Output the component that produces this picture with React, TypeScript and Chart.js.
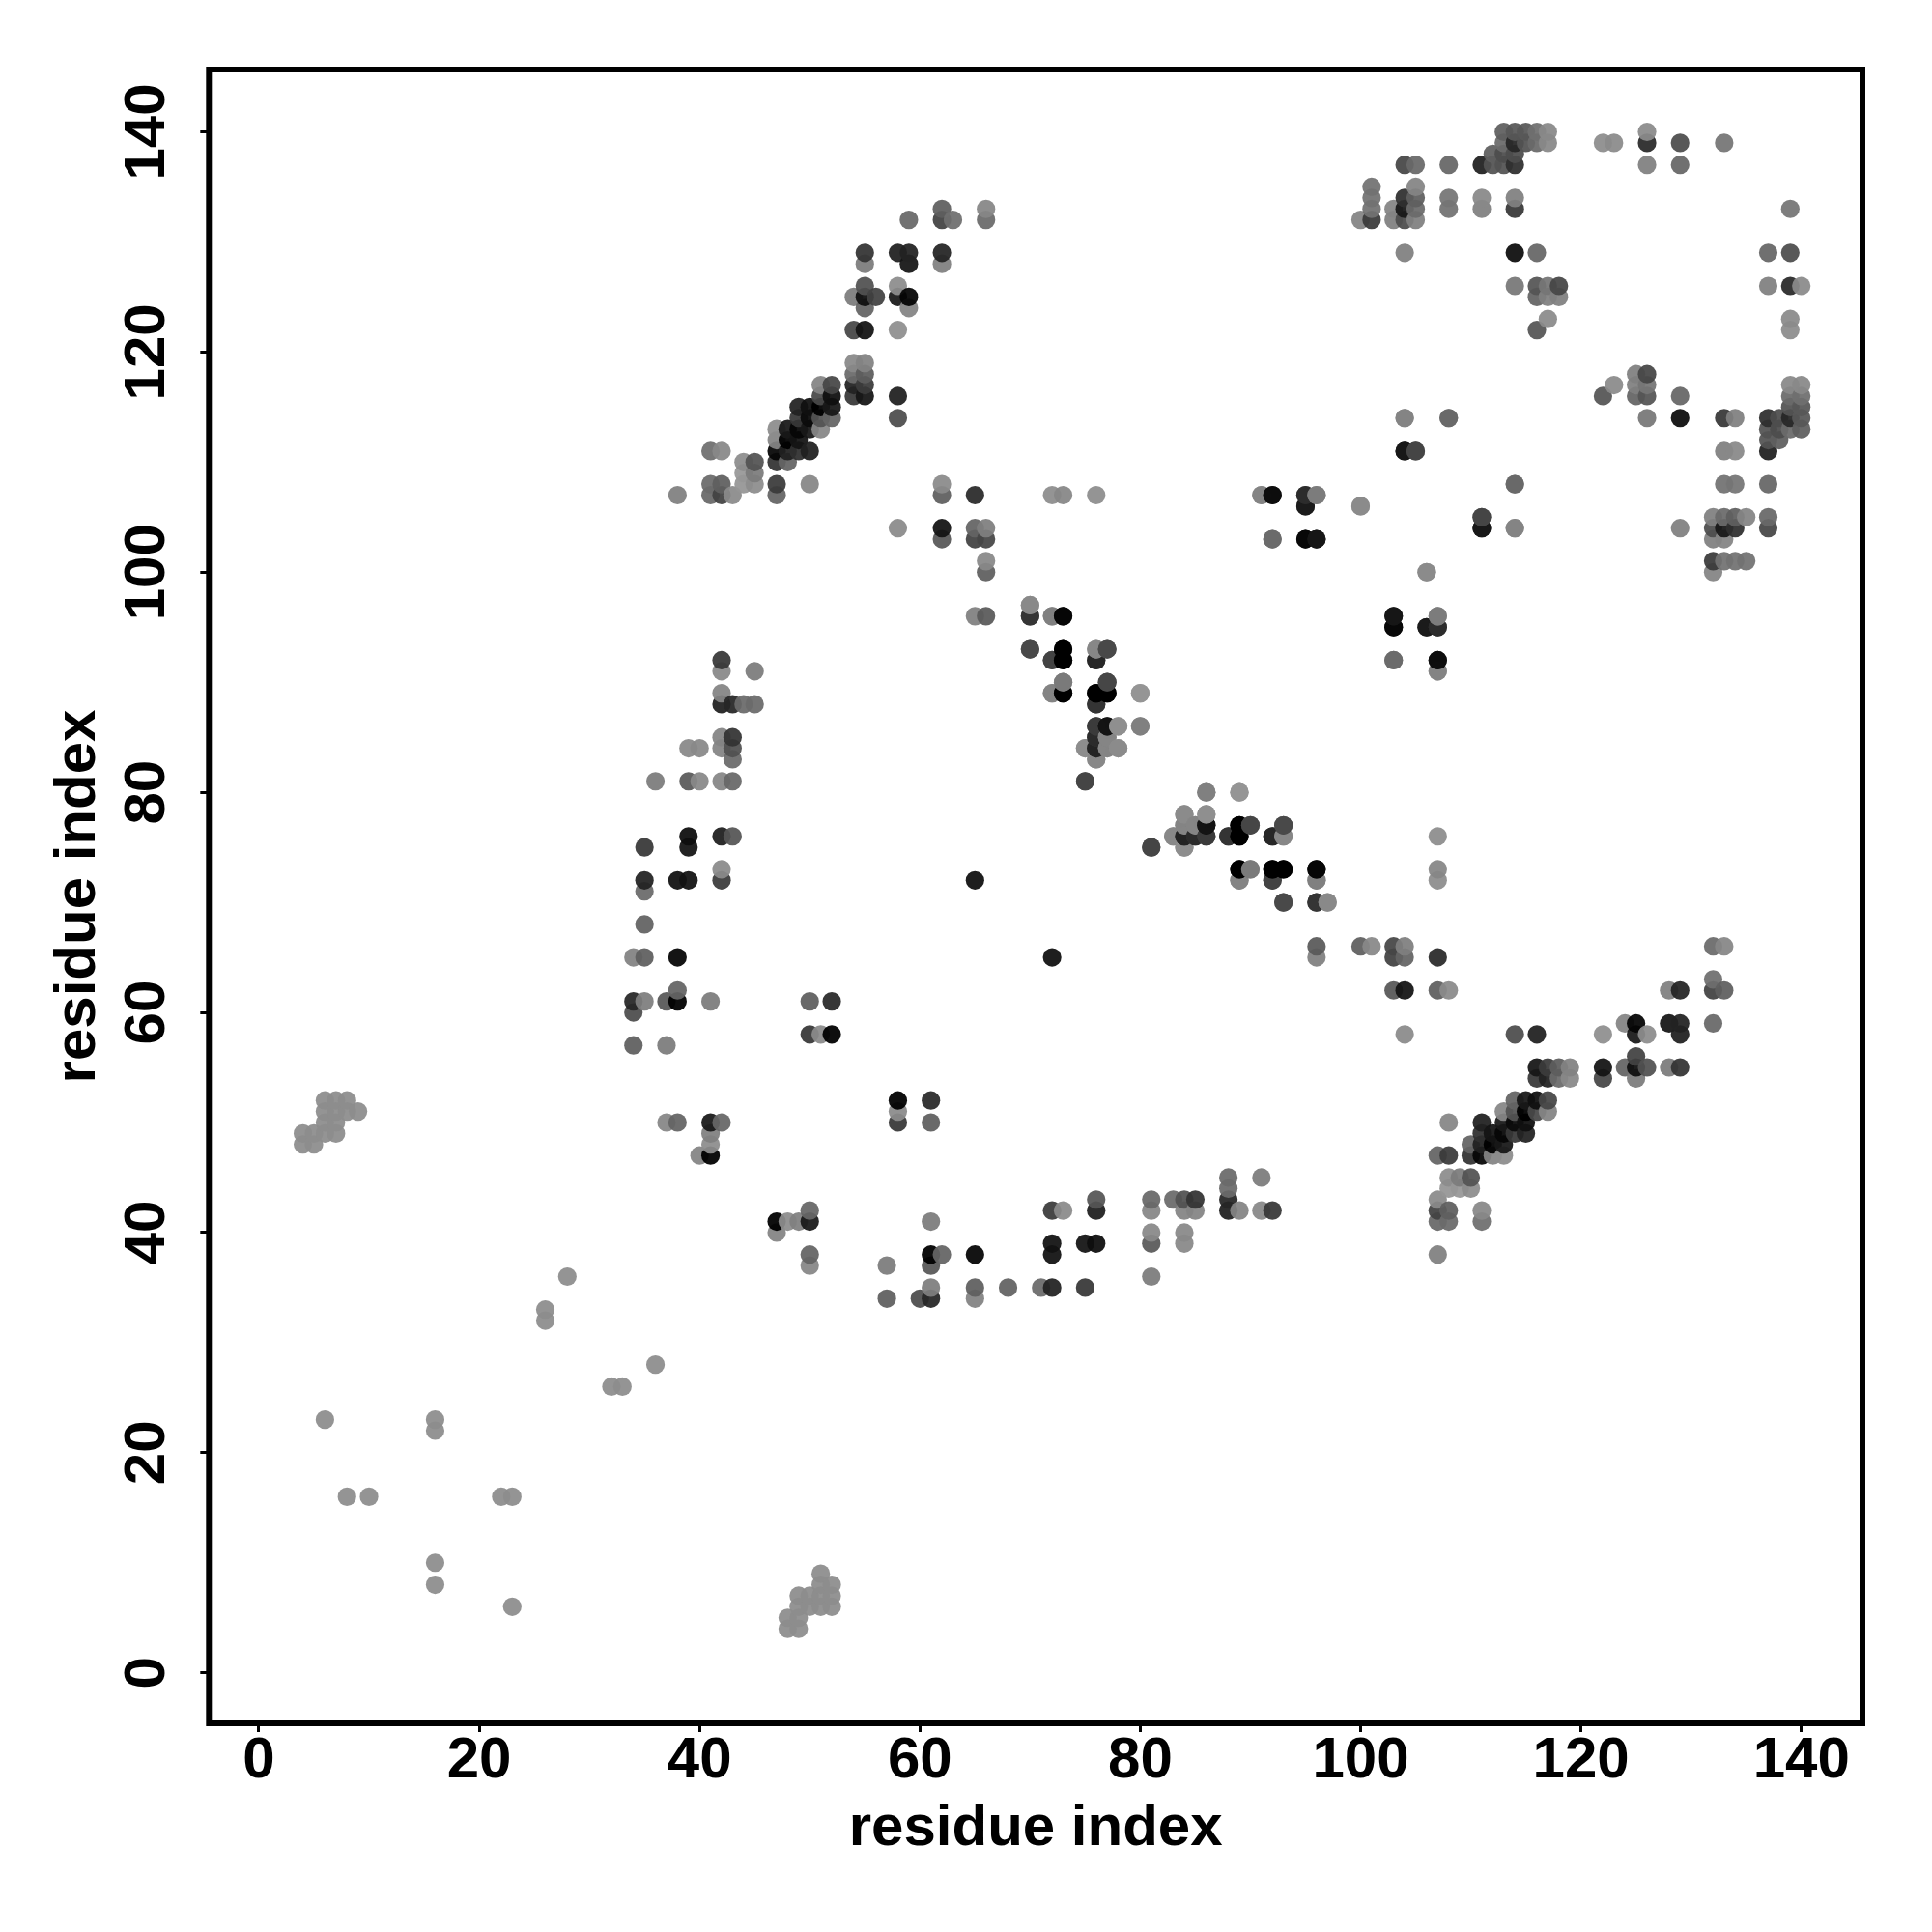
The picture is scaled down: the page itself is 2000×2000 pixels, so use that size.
import React, { useEffect, useRef } from "react";
import { Chart } from "chart.js/auto";

// Each contact is [residue i, residue j, grey level], i < j; the map is symmetric.
const terminalContacts: number[][] = [
  [4,48,0x90],[4,49,0x90],[5,48,0x90],[5,49,0x90],[6,49,0x90],[6,50,0x90],[6,51,0x90],[6,52,0x90],
  [7,49,0x90],[7,50,0x90],[7,51,0x90],[7,52,0x90],[8,51,0x90],[8,52,0x90],[9,51,0x90],
  [6,23,0x90],[8,16,0x90],[10,16,0x90],[16,22,0x90],[16,23,0x90],[26,32,0x90],[26,33,0x90],[28,36,0x90],
];

const strandAContacts: number[][] = [
  [42,92,0x40],[42,91,0x8c],[45,91,0x80],[42,89,0x88],[42,88,0x2a],[43,88,0x30],[44,88,0x70],[45,88,0x70],
  [42,85,0x88],[43,85,0x3c],[39,84,0x8c],[40,84,0x8c],[42,84,0x88],[43,84,0x58],[43,83,0x70],
  [36,81,0x80],[39,81,0x60],[40,81,0x8c],[42,81,0x8a],[43,81,0x6e],
  [39,76,0x18],[42,76,0x28],[43,76,0x5c],[35,75,0x40],[39,75,0x1e],[42,73,0x8e],
  [35,72,0x2c],[38,72,0x1c],[39,72,0x1c],[42,72,0x44],[35,71,0x70],[35,68,0x68],
  [34,65,0x86],[35,65,0x66],[38,65,0x10],[38,62,0x6a],
  [34,61,0x30],[35,61,0x82],[37,61,0x5e],[38,61,0x00],[41,61,0x80],[50,61,0x66],[52,61,0x33],
  [34,60,0x55],[50,58,0x40],[51,58,0x8e],[52,58,0x00],[34,57,0x66],[37,57,0x80],
  [37,50,0x8a],[38,50,0x6a],[41,50,0x24],[42,50,0x6c],[41,49,0x85],[41,48,0x90],[40,47,0x88],[41,47,0x00],
];

const strandBContacts: number[][] = [
  [62,133,0x66],[66,133,0x8a],[59,132,0x6e],[62,132,0x4a],[63,132,0x75],[66,132,0x70],
  [55,129,0x3c],[58,129,0x2a],[59,129,0x2c],[62,129,0x2e],[55,128,0x80],[59,128,0x20],[62,128,0x85],
  [55,126,0x58],[58,126,0x90],[54,125,0x80],[55,125,0x1a],[56,125,0x4a],[58,125,0x24],[59,125,0x10],
  [55,124,0x6a],[59,124,0x88],[54,122,0x4e],[55,122,0x1e],[58,122,0x92],
  [54,119,0x8c],[55,119,0x86],[54,118,0x70],[55,118,0x64],
  [51,117,0x88],[52,117,0x4e],[54,117,0x2c],[55,117,0x44],
  [51,116,0x50],[52,116,0x1a],[54,116,0x40],[55,116,0x20],[58,116,0x2a],
  [49,115,0x2c],[50,115,0x1a],[51,115,0x05],[52,115,0x22],
  [49,114,0x40],[50,114,0x16],[51,114,0x5a],[52,114,0x6a],[58,114,0x55],
  [47,113,0x90],[48,113,0x22],[49,113,0x11],[50,113,0x22],[51,113,0x8a],
  [47,112,0x88],[48,112,0x0c],[49,112,0x1e],
  [41,111,0x75],[42,111,0x8c],[47,111,0x11],[48,111,0x2a],[49,111,0x38],[50,111,0x2a],
  [44,110,0x90],[45,110,0x5a],[47,110,0x3c],[48,110,0x6a],[44,109,0x9a],[45,109,0x80],
  [41,108,0x70],[42,108,0x66],[44,108,0x98],[45,108,0x90],[47,108,0x44],[50,108,0x8a],[62,108,0x8e],
  [38,107,0x85],[41,107,0x6e],[42,107,0x4a],[43,107,0x8e],[47,107,0x6a],[62,107,0x66],[65,107,0x33],
  [72,107,0x90],[73,107,0x8a],[76,107,0x90],[58,104,0x8e],
];

const strandCContacts: number[][] = [
  [91,107,0x8a],[92,107,0x18],[95,107,0x33],[96,107,0x80],[95,106,0x22],[100,106,0x8e],
  [65,104,0x6a],[66,104,0x84],[62,104,0x1e],[62,103,0x5e],[65,103,0x4a],[66,103,0x4e],[92,103,0x70],[95,103,0x14],[96,103,0x1e],
  [66,101,0x8c],[66,100,0x66],[106,100,0x8e],[70,97,0x92],
  [65,96,0x85],[66,96,0x60],[70,96,0x33],[72,96,0x8a],[73,96,0x10],[103,96,0x20],[107,96,0x80],
  [103,95,0x14],[106,95,0x26],[107,95,0x36],
  [70,93,0x50],[73,93,0x00],[76,93,0x90],[77,93,0x50],
  [72,92,0x50],[73,92,0x00],[76,92,0x2e],[103,92,0x70],[107,92,0x18],[107,91,0x88],
  [73,90,0x80],[77,90,0x4a],[72,89,0x8a],[73,89,0x00],[76,89,0x00],[77,89,0x00],[80,89,0x92],
  [76,88,0x3c],[76,86,0x44],[77,86,0x18],[78,86,0x8e],[80,86,0x85],[76,85,0x44],[77,85,0x8a],
  [75,84,0x8c],[76,84,0x30],[77,84,0x8a],[78,84,0x90],[76,83,0x88],[75,81,0x4c],
  [86,80,0x85],[89,80,0x98],[84,78,0x8e],[86,78,0x92],
  [84,77,0x88],[85,77,0x88],[86,77,0x1e],[89,77,0x00],[90,77,0x4e],[93,77,0x50],
  [83,76,0x8c],[84,76,0x2c],[85,76,0x33],[86,76,0x44],[88,76,0x3c],[89,76,0x00],[92,76,0x30],[93,76,0x8a],
  [81,75,0x4c],[84,75,0x90],[89,73,0x00],[90,73,0x7e],[92,73,0x00],[93,73,0x00],[96,73,0x11],
  [89,72,0x88],[92,72,0x4a],[96,72,0x85],[93,70,0x50],[96,70,0x3e],[97,70,0x8c],[65,72,0x1a],
];

const strandDContacts: number[][] = [
  [113,140,0x66],[114,140,0x5e],[115,140,0x5e],[116,140,0x75],[117,140,0x8c],[126,140,0x8e],
  [113,139,0x70],[114,139,0x30],[115,139,0x5a],[116,139,0x70],[117,139,0x8c],[122,139,0x90],[123,139,0x8e],[126,139,0x33],[129,139,0x55],[133,139,0x7a],
  [112,138,0x66],[113,138,0x55],[114,138,0x55],
  [104,137,0x4e],[105,137,0x6e],[108,137,0x6c],[111,137,0x2a],[112,137,0x5a],[113,137,0x5a],[114,137,0x38],[126,137,0x85],[129,137,0x6c],
  [101,135,0x77],[105,135,0x88],
  [101,134,0x77],[104,134,0x38],[105,134,0x66],[108,134,0x7a],[111,134,0x8c],[114,134,0x85],
  [101,133,0x77],[103,133,0x88],[104,133,0x22],[105,133,0x70],[108,133,0x77],[111,133,0x85],[114,133,0x40],
  [100,132,0x88],[101,132,0x44],[103,132,0x85],[104,132,0x55],[105,132,0x85],
  [104,129,0x85],[114,129,0x18],[116,129,0x6c],[114,126,0x7c],[116,126,0x5c],[117,126,0x7a],[118,126,0x4e],
  [116,125,0x6a],[117,125,0x85],[118,125,0x85],[117,123,0x8e],[116,122,0x5c],
  [104,114,0x8a],[108,114,0x7a],[104,111,0x20],[105,111,0x55],[114,108,0x6e],
  [111,105,0x4c],[111,104,0x22],[114,104,0x88],
];

const allHalves = [terminalContacts, strandAContacts, strandBContacts, strandCContacts, strandDContacts];
const axisTitle = "residue index";

export default function App() {
  const ref = useRef<HTMLCanvasElement | null>(null);
  useEffect(() => {
    const half = allHalves.flat();
    const full = half.flatMap(([i, j, g]) => [[i, j, g], [j, i, g]]);
    full.sort((a, b) => a[0] - b[0] || a[1] - b[1]);
    const alpha = 0.94;
    const colour = (g: number) => {
      const c = Math.max(0, Math.round((g + 4 - 255 * (1 - alpha)) / alpha));
      return `rgba(${c},${c},${c},${alpha})`;
    };
    const tickFont = { family: "'Liberation Sans', Arial, sans-serif", size: 60, weight: "bold" as const };
    const grid = { drawOnChartArea: false, drawTicks: true, tickLength: 9, tickWidth: 3, tickColor: "#000", color: "#000" };
    const box = {
      id: "box",
      afterDraw(chart: any) {
        const { ctx, chartArea: a } = chart;
        ctx.save();
        ctx.strokeStyle = "#000";
        ctx.lineWidth = 6;
        ctx.strokeRect(a.left, a.top, a.right - a.left, a.bottom - a.top);
        ctx.restore();
      },
    };
    const chart = new Chart(ref.current!, {
      type: "scatter",
      data: {
        datasets: [{
          data: full.map(([x, y]) => ({ x, y })),
          pointBackgroundColor: full.map((p) => colour(p[2])),
          pointBorderWidth: 0,
          pointRadius: 9.6,
        }],
      },
      plugins: [box],
      options: {
        animation: false,
        responsive: false,
        layout: { padding: { top: 72, right: 72, left: 0, bottom: 0 } },
        plugins: { legend: { display: false }, tooltip: { enabled: false } },
        scales: {
          x: {
            type: "linear", min: -4.53, max: 145.55,
            afterFit: (s: any) => { s.height = 2000 - 1784; },
            border: { display: false }, grid,
            ticks: { stepSize: 20, includeBounds: false, autoSkip: false, minRotation: 0, maxRotation: 0, padding: -6, color: "#000", font: tickFont },
            title: { display: true, text: axisTitle, color: "#000", font: tickFont, padding: { top: 0, bottom: 71 } },
          },
          y: {
            type: "linear", min: -4.59, max: 145.66,
            afterFit: (s: any) => { s.width = 216.3; },
            border: { display: false }, grid,
            ticks: { stepSize: 20, includeBounds: false, autoSkip: false, minRotation: 90, maxRotation: 90, crossAlign: "center", padding: 4, color: "#000", font: tickFont },
            title: { display: true, text: axisTitle, color: "#000", font: tickFont, padding: { top: 45, bottom: 0 } },
          },
        },
      } as any,
    });
    return () => chart.destroy();
  }, []);
  return (
    <div style={{ position: "absolute", left: 0, top: 0, width: 2000, height: 2000, background: "#fff" }}>
      <canvas ref={ref} width={2000} height={2000} style={{ display: "block", width: 2000, height: 2000 }} />
    </div>
  );
}
